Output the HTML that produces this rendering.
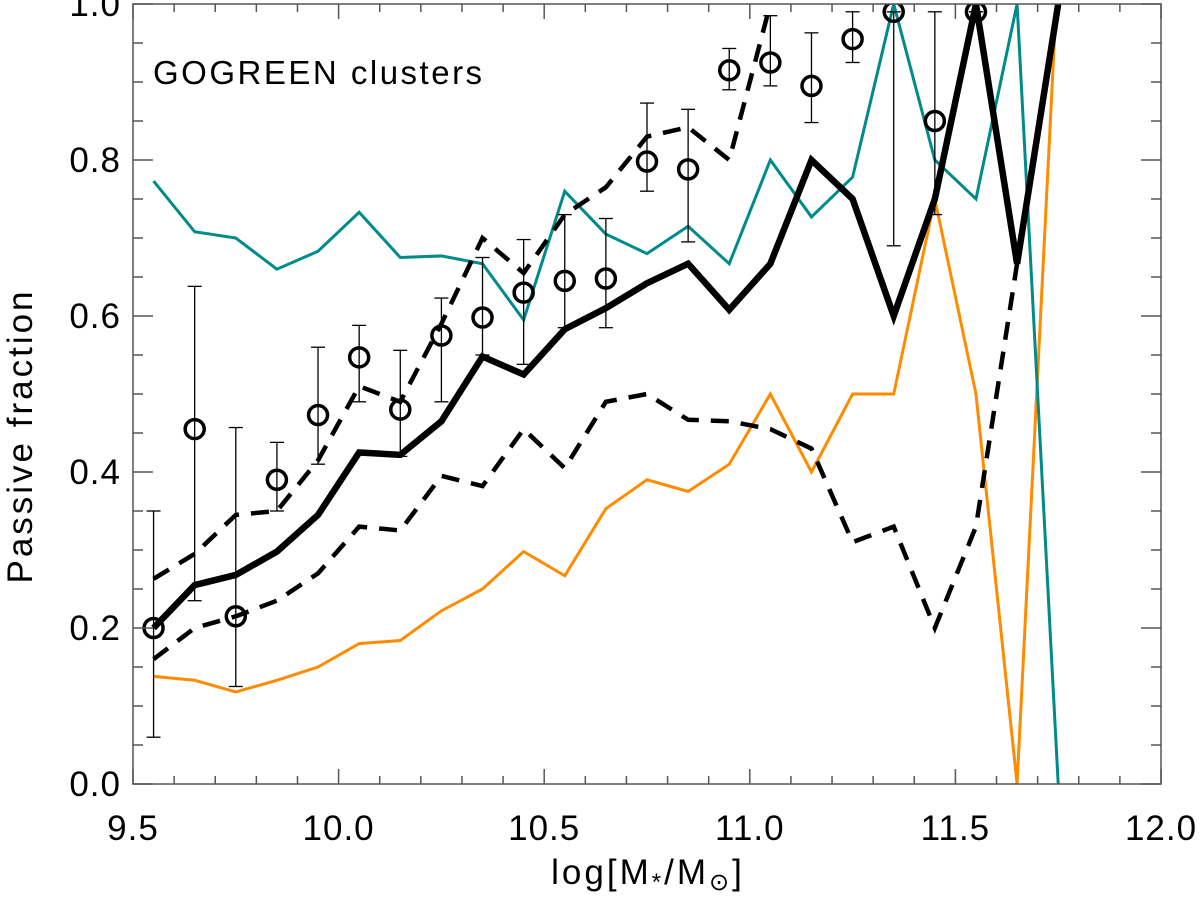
<!DOCTYPE html>
<html><head><meta charset="utf-8"><style>
body{margin:0;background:#fff}
text{font-family:"Liberation Sans",sans-serif;fill:#000}
</style></head><body>
<svg id="chart" width="1200" height="897" xmlns="http://www.w3.org/2000/svg"></svg>
<script>
const xCats=[9.55,9.65,9.75,9.85,9.95,10.05,10.15,10.25,10.35,10.45,10.55,10.65,10.75,10.85,10.95,11.05,11.15,11.25,11.35,11.45,11.55,11.65,11.75];
const circleY=[0.20,0.455,0.215,0.39,0.473,0.547,0.48,0.575,0.598,0.63,0.645,0.648,0.798,0.788,0.915,0.925,0.895,0.955,0.99,0.85,0.99];
const errLo=[0.06,0.235,0.125,0.35,0.41,0.49,0.42,0.49,0.55,0.538,0.585,0.585,0.76,0.695,0.89,0.895,0.848,0.925,0.69,0.73,0.99];
const errHi=[0.35,0.638,0.457,0.438,0.56,0.588,0.556,0.623,0.675,0.698,0.73,0.725,0.873,0.865,0.943,0.985,0.963,0.99,0.99,0.99,0.99];
const thickY=[0.20,0.255,0.268,0.298,0.345,0.425,0.422,0.465,0.548,0.525,0.583,0.61,0.642,0.667,0.608,0.667,0.80,0.75,0.60,0.75,1.0,0.667,1.0];
const upperY=[0.263,0.295,0.345,0.35,0.415,0.51,0.49,0.59,0.70,0.655,0.73,0.765,0.83,0.842,0.80,1.0];
const lowerY=[0.16,0.20,0.215,0.235,0.27,0.33,0.325,0.395,0.382,0.455,0.405,0.49,0.50,0.467,0.465,0.455,0.43,0.31,0.33,0.20,0.33,0.667];
const tealY=[0.773,0.708,0.70,0.66,0.683,0.733,0.675,0.677,0.667,0.595,0.76,0.705,0.68,0.715,0.667,0.80,0.727,0.778,1.0,0.80,0.75,1.0,0.0];
const orangeY=[0.138,0.133,0.118,0.133,0.15,0.18,0.184,0.222,0.25,0.298,0.267,0.353,0.39,0.375,0.41,0.50,0.40,0.50,0.50,0.75,0.50,0.0,1.05];
const xTicks=["9.5","10.0","10.5","11.0","11.5","12.0"];
const yTicks=["0.0","0.2","0.4","0.6","0.8","1.0"];

const L=133,R=1161,T=4,B=784;
const sx=v=>L+(v-9.5)/2.5*(R-L);
const sy=v=>B-v*(B-T);
const svg=document.getElementById('chart');
const NS='http://www.w3.org/2000/svg';
function mk(tag,at,parent){const e=document.createElementNS(NS,tag);for(const k in at)e.setAttribute(k,at[k]);(parent||svg).appendChild(e);return e;}
const defs=mk('defs',{});const cp=mk('clipPath',{id:'c'},defs);mk('rect',{x:L,y:T,width:R-L,height:B-T},cp);
const plot=mk('g',{'clip-path':'url(#c)'});


function line(ys,color,w,dash,name){
  const pts=ys.map((y,i)=>sx(xCats[i])+','+sy(y)).join(' ');
  const p=mk('polyline',{points:pts,fill:'none',stroke:color,'stroke-width':w,'stroke-linejoin':'miter','stroke-dasharray':dash||'none'},plot);
  
  
}
line(orangeY,'#ff8c00',3,null,'orange-line');
line(tealY,'#008b8b',3,null,'teal-line');
line(upperY,'#000',4.5,'18,12','upper-dashed-line');
line(lowerY,'#000',4.5,'18,12','lower-dashed-line');
line(thickY,'#000',6.5,null,'thick-black-line');
circleY.forEach((y,i)=>{
  const x=sx(xCats[i]);
  const g=mk('g',{},plot);
  
  
  mk('line',{x1:x,x2:x,y1:sy(errLo[i]),y2:sy(errHi[i]),stroke:'#000','stroke-width':1.3},g);
  mk('line',{x1:x-7,x2:x+7,y1:sy(errLo[i]),y2:sy(errLo[i]),stroke:'#000','stroke-width':1.3},g);
  mk('line',{x1:x-7,x2:x+7,y1:sy(errHi[i]),y2:sy(errHi[i]),stroke:'#000','stroke-width':1.3},g);
  mk('circle',{cx:x,cy:sy(y),r:9.5,fill:'none',stroke:'#000','stroke-width':3.5},g);
});
const fr=mk('rect',{x:L,y:T,width:R-L,height:B-T,fill:'none',stroke:'#555','stroke-width':1.5});


for(let k=0;k<=25;k++){const x=sx(9.5+k*0.1);const len=k%5==0?15:8;
  mk('line',{x1:x,x2:x,y1:B,y2:B-len,stroke:'#555','stroke-width':1.5});
  mk('line',{x1:x,x2:x,y1:T,y2:T+len,stroke:'#555','stroke-width':1.5});}
for(let k=0;k<=20;k++){const y=sy(k*0.05);const len=k%4==0?20:10;
  mk('line',{x1:L,x2:L+len,y1:y,y2:y,stroke:'#555','stroke-width':1.5});
  mk('line',{x1:R,x2:R-len,y1:y,y2:y,stroke:'#555','stroke-width':1.5});}
xTicks.forEach((t,i)=>{const e=mk('text',{x:sx(9.5+i*0.5),y:B+56,'text-anchor':'middle','font-size':35,'letter-spacing':1});e.textContent=t;
  });
yTicks.forEach((t,i)=>{const e=mk('text',{x:L-12,y:sy(i*0.2)+12,'text-anchor':'end','font-size':35,'letter-spacing':1});e.textContent=t;
  });
</script>
<svg style="position:absolute;left:0;top:0" width="1200" height="897" xmlns="http://www.w3.org/2000/svg">
<text x="153" y="84" font-size="33" letter-spacing="2.5">GOGREEN clusters</text>
<text x="648" y="884" text-anchor="middle" font-size="35" letter-spacing="3">log[M<tspan font-size="24" dy="6">*</tspan><tspan dy="-6">/M</tspan><tspan font-size="24" dy="6">⊙</tspan><tspan dy="-6">]</tspan></text>
<text transform="translate(32,436) rotate(-90)" text-anchor="middle" font-size="35" letter-spacing="3">Passive fraction</text>
</svg>
</body></html>
